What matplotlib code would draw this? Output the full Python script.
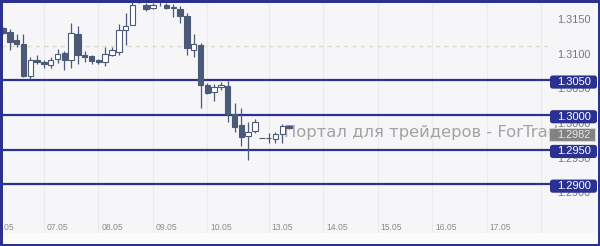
import matplotlib
matplotlib.use("Agg")
import matplotlib.pyplot as plt
from matplotlib.patches import FancyBboxPatch, Rectangle
from matplotlib.transforms import blended_transform_factory, offset_copy
import numpy as np

# 3-hour candles, GBP/USD-like quotes
opens = [1.3125, 1.3120, 1.3108, 1.3102, 1.3056, 1.3079, 1.3076, 1.3072, 1.3081, 1.3089,
         1.3079, 1.3117, 1.3086, 1.3085, 1.3079, 1.3076, 1.3086, 1.3091, 1.3122, 1.3130,
         1.3163, 1.3159, 1.3154, 1.3164, 1.3159, 1.3156, 1.3153, 1.3143, 1.3094, 1.3101,
         1.3043, 1.3033, 1.3040, 1.3042, 1.3001, 1.2986, 1.2970, 1.2977, 1.2967, 1.2967,
         1.2965, 1.2973, 1.2984]
highs = [1.3127, 1.3124, 1.3117, 1.3117, 1.3084, 1.3086, 1.3079, 1.3084, 1.3095, 1.3092,
         1.3133, 1.3128, 1.3092, 1.3086, 1.3081, 1.3098, 1.3098, 1.3131, 1.3147, 1.3175,
         1.3190, 1.3161, 1.3162, 1.3170, 1.3162, 1.3160, 1.3157, 1.3147, 1.3117, 1.3104,
         1.3046, 1.3045, 1.3048, 1.3049, 1.3017, 1.3010, 1.2990, 1.2994, 1.2967, 1.2974,
         1.2976, 1.2987, 1.2986]
lows = [1.3117, 1.3094, 1.3098, 1.3055, 1.3052, 1.3073, 1.3068, 1.3068, 1.3075, 1.3065,
        1.3068, 1.3073, 1.3076, 1.3073, 1.3073, 1.3071, 1.3085, 1.3086, 1.3101, 1.3129,
        1.3162, 1.3150, 1.3153, 1.3157, 1.3153, 1.3141, 1.3133, 1.3086, 1.3084, 1.3010,
        1.3030, 1.3020, 1.3036, 1.2990, 1.2976, 1.2955, 1.2935, 1.2974, 1.2967, 1.2960,
        1.2960, 1.2960, 1.2980]
closes = [1.3118, 1.3105, 1.3102, 1.3056, 1.3079, 1.3076, 1.3073, 1.3079, 1.3088, 1.3079,
          1.3118, 1.3086, 1.3084, 1.3078, 1.3076, 1.3088, 1.3094, 1.3122, 1.3128, 1.3159,
          1.3178, 1.3153, 1.3159, 1.3166, 1.3154, 1.3154, 1.3143, 1.3097, 1.3102, 1.3043,
          1.3032, 1.3040, 1.3043, 1.3001, 1.2983, 1.2968, 1.2976, 1.2990, 1.2967, 1.2967,
          1.2973, 1.2984, 1.2982]

levels = [1.3050, 1.3000, 1.2950, 1.2900]
axis_prices = [1.3150, 1.3100, 1.3050, 1.3000, 1.2950, 1.2900]
dash_level = 1.3100
day_ticks = [-2, 6, 14, 22, 30, 39, 47, 55, 63, 71, 79]
day_labels = ['06.05', '07.05', '08.05', '09.05', '10.05', '13.05',
              '14.05', '15.05', '16.05', '17.05', '']
watermark = 'Портал для трейдеров - ForTrader.ru'

DARK = '#4b5a76'
NAVY = '#2b3190'
BG = '#f6f6f8'

fig = plt.figure(figsize=(6.0, 2.46), dpi=100)
fig.patch.set_facecolor(BG)
ax = fig.add_axes([2 / 600, 13 / 246, 548 / 600, 230 / 246])
ax.set_facecolor(BG)
for side in ['top', 'left', 'right']:
    ax.spines[side].set_visible(False)
ax.spines['bottom'].set_color('#e4e4e8')
ax.spines['bottom'].set_linewidth(0.8)
ax.set_xticks([])
ax.set_yticks([])

# bottom strip under the date labels
fig.patches.append(Rectangle((0, 0), 1, 13 / 246, transform=fig.transFigure,
                             facecolor='#fbfbfc', edgecolor='none', zorder=0))

# day grid
for t in day_ticks:
    ax.axvline(t, color='#e9e9ee', lw=0.8, zorder=1)

ax.axhline(dash_level, color='#e2d9c8', lw=1.0, ls=(0, (3, 3)), zorder=1)
for lv in levels:
    ax.axhline(lv, color=NAVY, lw=1.6, zorder=2)

# candles
x = np.arange(len(opens))
o = np.array(opens)
h = np.array(highs)
l = np.array(lows)
c = np.array(closes)
up = c >= o
ax.vlines(x, l, h, color=DARK, lw=0.9, zorder=3)
ax.bar(x, np.abs(c - o), bottom=np.minimum(o, c), width=0.8,
       color=np.where(up, 'white', DARK), edgecolor=DARK, linewidth=0.8, zorder=4)

# watermark
ax.text(0.5146, 0.4348, watermark, transform=ax.transAxes, color='#a3a3a3',
        fontsize=11.8, ha='left', va='center', zorder=2, clip_on=False)

# date labels
xtrans = offset_copy(blended_transform_factory(ax.transData, ax.transAxes), fig=fig, x=3, units='dots')
for t, lab in zip(day_ticks, day_labels):
    ax.text(t, 0.026, lab, transform=xtrans, ha='left', va='center',
            fontsize=6.2, color='#8c8c8c', family='Liberation Sans', clip_on=True)

# price scale
ptrans = blended_transform_factory(ax.transAxes, ax.transData)
ltrans = offset_copy(ptrans, fig=fig, y=-4, units='dots')
for p in axis_prices:
    ax.text(1.0438, p, f'{p:.4f}', transform=ltrans, ha='center', va='top',
            fontsize=7.8, color='#777777', family='Liberation Sans', clip_on=False, zorder=5)

bh = 0.0019
bw = 47 / 548
for lv in levels:
    yc = lv - 0.00025
    ax.add_patch(FancyBboxPatch((1.0, yc - bh / 2), bw, bh,
                                boxstyle='round,pad=0,rounding_size=0.005', mutation_aspect=0.075,
                                transform=ptrans, facecolor=NAVY, edgecolor='none',
                                clip_on=False, zorder=6))
    ax.text(1.0438, yc, f'{lv:.4f}', transform=ptrans, ha='center', va='center',
            fontsize=8, color='white', family='Liberation Sans', clip_on=False, zorder=7)

# last price marker
last = closes[-1]
yc = last - 0.00105
ax.add_patch(Rectangle((0.9982, yc - bh / 2), 46 / 548, bh, transform=ptrans,
                       facecolor='#7a7a7a', edgecolor='#d8d8d8', lw=0.8, alpha=0.92,
                       clip_on=False, zorder=8))
ax.text(1.0438, yc, f'{last:.4f}', transform=ptrans, ha='center', va='center',
        fontsize=7.8, color='#e6e6e6', family='Liberation Sans', clip_on=False, zorder=9)

ax.set_xlim(-0.15, 80.32)
ax.set_ylim(1.28300, 1.31614)

# frame
fig.patches.append(Rectangle((0, 0), 1, 1, transform=fig.transFigure, fill=False,
                             edgecolor=NAVY, lw=3.6, zorder=10))

fig.savefig('out.png', dpi=100, facecolor=fig.get_facecolor())
